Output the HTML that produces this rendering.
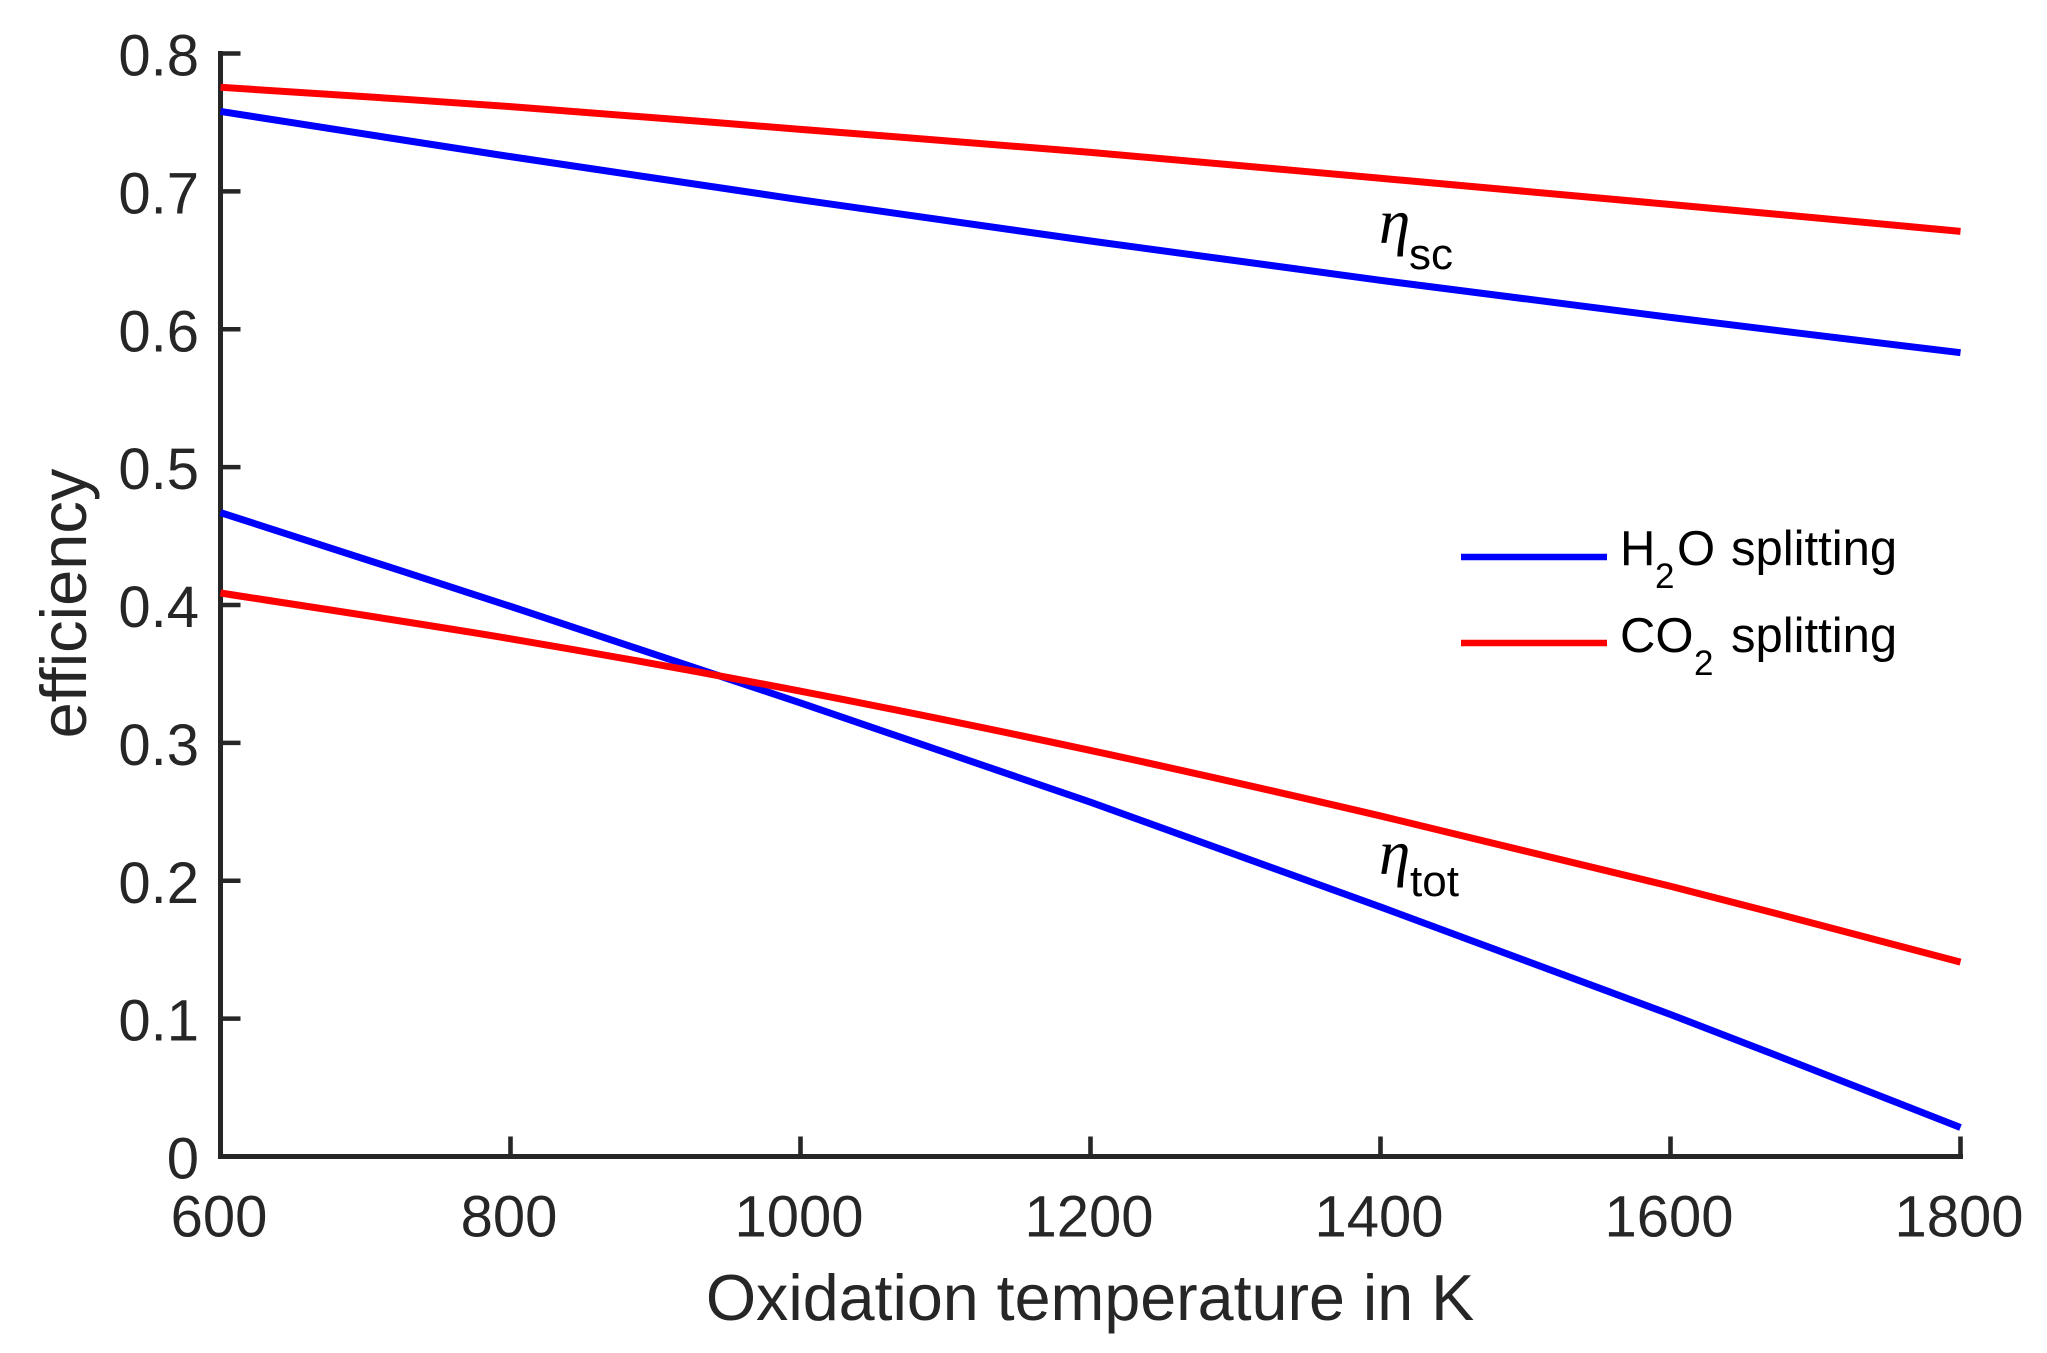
<!DOCTYPE html>
<html lang="en">
<head>
<meta charset="utf-8">
<title>Efficiency vs oxidation temperature</title>
<style>
html,body{margin:0;padding:0;background:#fff;}
svg{display:block;}
text{font-family:"Liberation Sans",Arial,sans-serif;}
</style>
</head>
<body>
<svg id="chart" width="2047" height="1353" viewBox="0 0 2047 1353" xmlns="http://www.w3.org/2000/svg">
  <rect x="0" y="0" width="2047" height="1353" fill="#fff"/>
  <g id="axes"></g>
  <g id="series"></g>
  <text x="1090" y="1320" font-size="64.6" fill="#262626" text-anchor="middle">Oxidation temperature in K</text>
  <text transform="translate(86 603.5) rotate(-90)" font-size="65" fill="#262626" text-anchor="middle">efficiency</text>

  <g>
    <text x="1379" y="243" font-size="63" font-style="italic" fill="#000" style="font-family:'Liberation Serif','DejaVu Serif',serif">η</text>
    <text x="1409" y="269" font-size="44" fill="#000">sc</text>
  </g>
  <g>
    <text x="1379" y="874" font-size="63" font-style="italic" fill="#000" style="font-family:'Liberation Serif','DejaVu Serif',serif">η</text>
    <text x="1410" y="896" font-size="44" fill="#000">tot</text>
  </g>

  <g>
    <g>
      <line x1="1461" y1="557" x2="1607" y2="557" stroke="#0000ff" stroke-width="6.5"/>
      <text x="1620" y="565" font-size="49" fill="#000">H</text>
      <text x="1655" y="588" font-size="35" fill="#000">2</text>
      <text x="1677" y="565" font-size="49" fill="#000">O</text>
      <text x="1731" y="565" font-size="49" fill="#000">splitting</text>
    </g>
    <g>
      <line x1="1461" y1="643" x2="1607" y2="643" stroke="#ff0000" stroke-width="6.5"/>
      <text x="1620" y="652" font-size="49" fill="#000">CO</text>
      <text x="1694" y="675" font-size="35" fill="#000">2</text>
      <text x="1731" y="652" font-size="49" fill="#000">splitting</text>
    </g>
  </g>
</svg>
<script>
const temperatures = [600, 800, 1000, 1200, 1400, 1600, 1800];
const h2oScEfficiency = [0.758, 0.7252, 0.6939, 0.664, 0.6355, 0.6086, 0.583];
const co2ScEfficiency = [0.7755, 0.7615, 0.745, 0.7283, 0.7095, 0.6905, 0.671];
const h2oTotEfficiency = [0.467, 0.399, 0.329, 0.257, 0.181, 0.103, 0.021];
const co2TotEfficiency = [0.4087, 0.3755, 0.3375, 0.2945, 0.247, 0.196, 0.141];
const xTickValues = [600, 800, 1000, 1200, 1400, 1600, 1800];
const yTickValues = [0, 0.1, 0.2, 0.3, 0.4, 0.5, 0.6, 0.7, 0.8];
const yTickLabels = ['0', '0.1', '0.2', '0.3', '0.4', '0.5', '0.6', '0.7', '0.8'];

const NS = 'http://www.w3.org/2000/svg';
const plotLeft = 220.5, plotRight = 1960.5, plotTop = 53.5, plotBottom = 1156.5;
const xScale = v => plotLeft + (v - 600) / (1800 - 600) * (plotRight - plotLeft);
const yScale = v => plotBottom - v / 0.8 * (plotBottom - plotTop);
const axisColor = '#262626';
const axes = document.getElementById('axes');
const seriesGroup = document.getElementById('series');

function make(tag, props, parent) {
  const el = document.createElementNS(NS, tag);
  for (const k in props) el.setAttribute(k, props[k]);
  parent.appendChild(el);
  return el;
}

const yAxisLine = make('line', {x1: plotLeft, y1: plotTop - 2.5, x2: plotLeft, y2: plotBottom + 2.5, stroke: axisColor, 'stroke-width': 5}, axes);


const xAxisLine = make('line', {x1: plotLeft - 2.5, y1: plotBottom, x2: plotRight + 2.5, y2: plotBottom, stroke: axisColor, 'stroke-width': 5}, axes);



xTickValues.forEach(v => {
  const tick = make('line', {x1: xScale(v), y1: plotBottom, x2: xScale(v), y2: plotBottom - 20, stroke: axisColor, 'stroke-width': 4.6}, axes);
  
  
  const label = make('text', {x: xScale(v) - 1.5, y: 1236.5, 'font-size': 58, fill: axisColor, 'text-anchor': 'middle'}, axes);
  label.textContent = String(v);
  
  
});

yTickValues.forEach((v, i) => {
  const tick = make('line', {x1: plotLeft, y1: yScale(v), x2: plotLeft + 20, y2: yScale(v), stroke: axisColor, 'stroke-width': 4.6}, axes);
  
  
  const label = make('text', {x: 199, y: yScale(v) + 22, 'font-size': 58, fill: axisColor, 'text-anchor': 'end'}, axes);
  label.textContent = yTickLabels[i];
  
  
});

// Smooth path through the data points (Catmull-Rom converted to cubic Beziers).
function drawSeries(values, color) {
  const pts = values.map((v, i) => [xScale(temperatures[i]), yScale(v)]);
  let d = 'M' + pts[0][0] + ' ' + pts[0][1];
  for (let i = 0; i < pts.length - 1; i++) {
    const p0 = pts[Math.max(i - 1, 0)], p1 = pts[i], p2 = pts[i + 1], p3 = pts[Math.min(i + 2, pts.length - 1)];
    const c1x = p1[0] + (p2[0] - p0[0]) / 6, c1y = p1[1] + (p2[1] - p0[1]) / 6;
    const c2x = p2[0] - (p3[0] - p1[0]) / 6, c2y = p2[1] - (p3[1] - p1[1]) / 6;
    d += ' C' + c1x + ' ' + c1y + ' ' + c2x + ' ' + c2y + ' ' + p2[0] + ' ' + p2[1];
  }
  return make('path', {d: d, fill: 'none', stroke: color, 'stroke-width': 7}, seriesGroup);
}

const lineH2oSc = drawSeries(h2oScEfficiency, '#0000ff');


const lineCo2Sc = drawSeries(co2ScEfficiency, '#ff0000');


const lineH2oTot = drawSeries(h2oTotEfficiency, '#0000ff');


const lineCo2Tot = drawSeries(co2TotEfficiency, '#ff0000');


</script>
</body>
</html>
